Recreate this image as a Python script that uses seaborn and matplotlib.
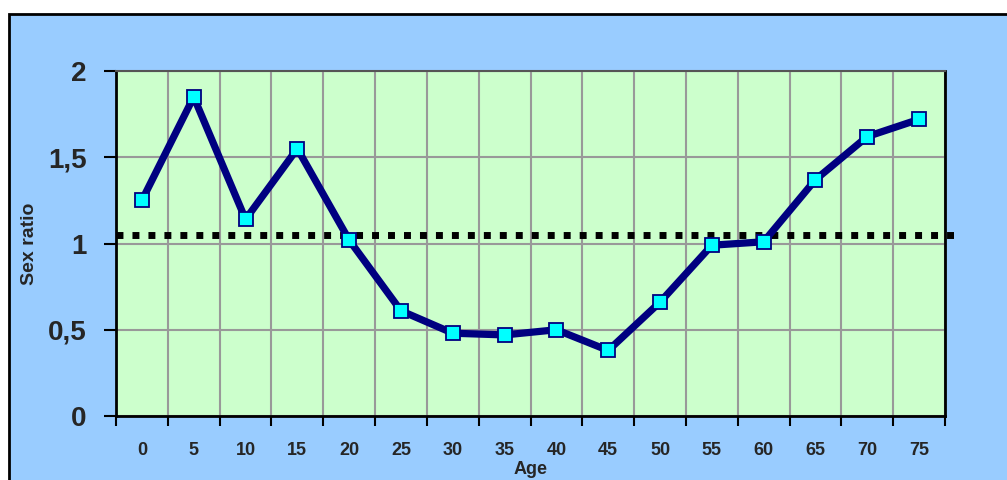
import numpy as np
import pandas as pd
import matplotlib
matplotlib.use("Agg")
import matplotlib.pyplot as plt
import seaborn as sns
from matplotlib.patches import Rectangle

# data
ages = ["0", "5", "10", "15", "20", "25", "30", "35", "40", "45",
        "50", "55", "60", "65", "70", "75"]
sex_ratio = [1.25, 1.85, 1.14, 1.55, 1.02, 0.61, 0.48, 0.47, 0.50, 0.38,
             0.66, 0.99, 1.01, 1.37, 1.62, 1.72]
reference_ratio = 1.05
y_ticks = [0, 0.5, 1, 1.5, 2]
y_labels = ["0", "0,5", "1", "1,5", "2"]

df = pd.DataFrame({"pos": np.arange(len(ages)), "Age": ages, "ratio": sex_ratio})

sns.set_style("white")
plt.rcParams["font.family"] = ["Liberation Sans", "DejaVu Sans"]

fig = plt.figure(figsize=(10.07, 4.8), dpi=100)
fig.patch.set_facecolor("white")
# blue chart frame, behind the axes
fig.patches.append(Rectangle((9 / 1007, -0.05), 1.1, 1 - 14 / 480 + 0.05,
                             transform=fig.transFigure, facecolor="#99CCFF",
                             edgecolor="black", linewidth=2, zorder=-10))

ax = fig.add_axes([116 / 1007, 1 - 416 / 480, 829 / 1007, 345 / 480])
ax.set_zorder(1)
ax.set_facecolor("#CCFFCC")

sns.lineplot(data=df, x="pos", y="ratio", ax=ax, color="#000080", linewidth=5.2,
             marker="s", markersize=10, markerfacecolor="#00FFFF",
             markeredgecolor="#000080", markeredgewidth=1.3, zorder=5)

# reference line (dotted), extends a bit past the plot area
ax.plot([-0.5, 15.7], [reference_ratio, reference_ratio], color="black",
        linestyle=(0, (1, 1.3)), linewidth=5, clip_on=False, zorder=4)

ax.set_xlim(-0.5, len(ages) - 0.5)
ax.set_ylim(0, 2)

ax.set_xticks(np.arange(len(ages) + 1) - 0.5)
ax.set_xticklabels([])
ax.set_xticks(np.arange(len(ages)), minor=True)
ax.set_xticklabels(ages, minor=True, fontsize=13, fontweight="bold")
ax.tick_params(axis="x", which="major", direction="out", length=7, width=1.5,
               color="black", bottom=True)
ax.tick_params(axis="x", which="minor", length=0, pad=19, bottom=True)

ax.set_yticks(y_ticks)
ax.set_yticklabels(y_labels, fontsize=20, fontweight="bold")
ax.tick_params(axis="y", direction="out", length=9, width=1.5, color="black",
               left=True, pad=12)

ax.grid(True, which="major", color="#999999", linewidth=1.5)
ax.set_axisbelow(True)

for side in ["left", "bottom", "right"]:
    ax.spines[side].set_color("black")
    ax.spines[side].set_linewidth(2)
ax.spines["top"].set_color("#555555")
ax.spines["top"].set_linewidth(1.5)

ax.set_xlabel("Age", fontsize=13, fontweight="bold", labelpad=0)
ax.set_ylabel("Sex ratio", fontsize=14, fontweight="bold", labelpad=14)
ax.xaxis.set_label_coords(0.5, -0.13)
ax.yaxis.set_label_coords(-0.094, 0.5)

fig.savefig("out.png", dpi=100)
